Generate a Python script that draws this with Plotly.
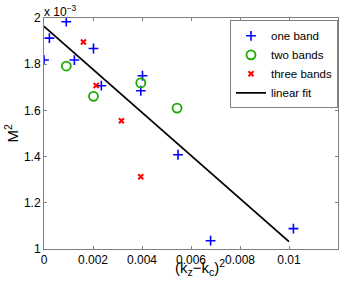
import plotly.graph_objects as go

# values of M^2 in units of 1e-3
one_x = [0.0, 0.00022, 0.00091, 0.00124, 0.00202, 0.00234, 0.00402, 0.00395, 0.00547, 0.0068, 0.01018]
one_y = [1.818, 1.913, 1.984, 1.818, 1.868, 1.707, 1.750, 1.685, 1.408, 1.036, 1.088]
two_x = [0.00091, 0.00202, 0.00395, 0.00543]
two_y = [1.792, 1.661, 1.719, 1.610]
three_x = [0.00161, 0.00213, 0.00316, 0.00395]
three_y = [1.896, 1.708, 1.555, 1.313]
fit_x = [0.0, 0.01]
fit_y = [1.964, 1.032]

x_ticks = [0, 0.002, 0.004, 0.006, 0.008, 0.01, 0.012]
x_ticklabels = ["0", "0.002", "0.004", "0.006", "0.008", "0.01", "0.012"]
y_ticks = [1.0, 1.2, 1.4, 1.6, 1.8, 2.0]
y_ticklabels = ["1", "1.2", "1.4", "1.6", "1.8", "2"]

FONT = "Liberation Sans, Arial, sans-serif"
AXC = "#7f7f7f"

fig = go.Figure()
fig.add_trace(go.Scatter(x=one_x, y=one_y, mode="markers", name="one band",
                         marker=dict(symbol="cross-thin-open", size=7, color="blue",
                                     line=dict(width=1.6, color="#1f3fff"))))
fig.add_trace(go.Scatter(x=two_x, y=two_y, mode="markers", name="two bands",
                         marker=dict(symbol="circle-open", size=9, color="#1aaa00",
                                     line=dict(width=1.8, color="#1aaa00"))))
fig.add_trace(go.Scatter(x=three_x, y=three_y, mode="markers", name="three bands",
                         marker=dict(symbol="x-thin-open", size=5, color="red",
                                     line=dict(width=2, color="#ff1010"))))
fig.add_trace(go.Scatter(x=fit_x, y=fit_y, mode="lines", name="linear fit",
                         line=dict(color="black", width=1.8)))

fig.update_layout(
    width=349, height=282,
    margin=dict(l=44, r=11, t=18, b=33),
    paper_bgcolor="white", plot_bgcolor="white",
    font=dict(family=FONT, size=12, color="black"),
    showlegend=True,
    legend=dict(x=1, xanchor="right", y=0.99, yanchor="top",
                bgcolor="white", bordercolor=AXC, borderwidth=1,
                font=dict(size=11.5), tracegroupgap=0,
                itemwidth=30),
    xaxis=dict(range=[0, 0.012], tickvals=x_ticks, ticktext=x_ticklabels,
               showgrid=False, zeroline=False, showline=True, linecolor=AXC,
               linewidth=1, mirror="ticks", ticks="inside", ticklen=3,
               tickcolor=AXC, tickfont=dict(size=12)),
    yaxis=dict(range=[1.0, 2.0], tickvals=y_ticks, ticktext=y_ticklabels,
               showgrid=False, zeroline=False, showline=True, linecolor=AXC,
               linewidth=1, mirror="ticks", ticks="inside", ticklen=3,
               tickcolor=AXC, tickfont=dict(size=12)),
    annotations=[
        dict(text="x 10<sup>−3</sup>", xref="paper", yref="paper", x=0, y=1,
             xanchor="left", yanchor="bottom", showarrow=False,
             font=dict(size=12), xshift=-2, yshift=-3),
        dict(text="(k<sub>z</sub>−k<sub>c</sub>)<sup>2</sup>", xref="paper", yref="paper",
             x=0.53, y=0, xanchor="center", yanchor="top", showarrow=False,
             font=dict(size=15), yshift=-6),
        dict(text="M<sup>2</sup>", xref="paper", yref="paper", x=-0.112, y=0.5,
             xanchor="center", yanchor="middle", showarrow=False, textangle=-90,
             font=dict(size=15)),
    ],
)

fig.write_html("out.html", config={"displayModeBar": False},
               post_script="document.body.style.margin='0';document.body.style.padding='0';")
